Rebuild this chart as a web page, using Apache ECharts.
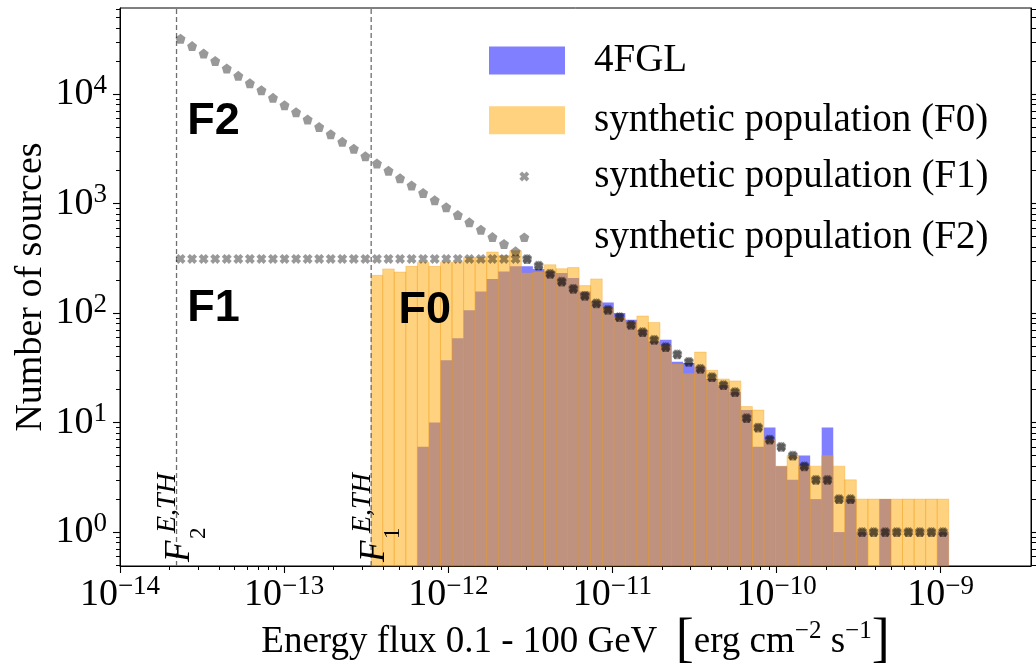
<!DOCTYPE html>
<html>
<head>
<meta charset="utf-8">
<title>Energy flux distribution of gamma-ray sources</title>
<script src="https://cdn.jsdelivr.net/npm/echarts@6/dist/echarts.min.js"></script>
<style>
  html, body { margin: 0; padding: 0; background: #ffffff; }
  #chart { width: 1036px; height: 666px; }
</style>
</head>
<body>
<div id="chart"></div>
<script>
// ---- Binning (log-spaced energy flux, erg cm^-2 s^-1) ----
const F1_THRESHOLD = 3.39e-13;   // F_1^{E,TH}: lower edge of the F0 / 4FGL histograms
const F2_THRESHOLD = 2.21e-14;   // F_2^{E,TH}
const FLUX_MAX = 1.12e-9;        // upper edge of the last histogram bin
const N_HIST_BINS = 50;          // bins between F1_THRESHOLD and FLUX_MAX
const N_EXTRA_BINS = 17;         // bins below F1_THRESHOLD used by the F1 / F2 samples

// ---- Axis ranges ----
const X_RANGE = [1e-14, 3.55e-9];
const Y_RANGE = [0.49, 6.1e4];
const X_DECADES = [-14, -13, -12, -11, -10, -9];
const Y_DECADES = [0, 1, 2, 3, 4];

// ---- Counts per histogram bin (starting at F1_THRESHOLD) ----
const COUNTS_4FGL = [
  0, 0, 0, 0, 6, 10, 37, 59, 106, 157,
  205, 240, 267, 267, 253, 240, 232, 209, 157, 128,
  125, 100, 87, 70, 55, 57, 36, 35, 32, 25,
  22, 19, 13, 6, 9, 4, 3, 5, 2, 9,
  1, 2, 1, 0, 2, 0, 0, 0, 0, 1
];
const COUNTS_F0 = [
  221, 253, 237, 267, 290, 267, 290, 290, 322, 322,
  361, 336, 371, 232, 237, 276, 254, 260, 178, 205,
  111, 90, 82, 94, 82, 51, 34, 28, 44, 30,
  25, 24, 14, 13, 7, 4, 5, 4, 4, 5,
  4, 3, 2, 2, 2, 2, 2, 2, 2, 2
];

// ---- Counts per bin for the extended samples (starting N_EXTRA_BINS below F1_THRESHOLD) ----
const COUNTS_F1 = [
  312, 312, 312, 312, 312, 312, 312, 312, 312, 312,
  312, 312, 312, 312, 312, 312, 312, 312, 312, 312,
  312, 312, 312, 312, 312, 312, 312, 312, 312, 312,
  312, 271, 229, 194, 167, 144, 123, 107, 92, 78,
  67, 57, 49, 42, 36, 31, 26, 22, 19, 11,
  9, 7, 6, 5, 4, 3, 3, 2, 2, 1,
  1, 1, 1, 1, 1, 1, 1
];
const COUNTS_F2 = [
  32000, 27400, 23400, 20000, 17100, 14650, 12560, 10840, 9230, 7910,
  6830, 5850, 5010, 4300, 3660, 3160, 2700, 2320, 1990, 1700,
  1460, 1250, 1070, 924, 787, 673, 577, 494, 427, 366,
  312, 271, 229, 194, 167, 144, 123, 107, 92, 78,
  67, 57, 49, 42, 36, 31, 26, 22, 19, 11,
  9, 7, 6, 5, 4, 3, 3, 2, 2, 1,
  1, 1, 1, 1, 1, 1, 1
];

// ---- Region labels ----
const REGION_LABELS = [
  { text: 'F2', flux: 2.57e-14, count: 5640 },
  { text: 'F1', flux: 2.57e-14, count: 109 },
  { text: 'F0', flux: 4.97e-13, count: 104.5 }
];
const THRESHOLDS = [
  { flux: F2_THRESHOLD, sub: '2' },
  { flux: F1_THRESHOLD, sub: '1' }
];

// ---- Styling ----
const BLUE = 'rgba(0,0,255,0.5)';
const ORANGE = 'rgba(255,165,0,0.5)';
const ORANGE_EDGE = 'rgba(240,150,0,0.3)';
const MARKER = 'rgba(0,0,0,0.5)';
const SERIF = '"Liberation Serif", "Times New Roman", serif';
const SANS = '"Liberation Sans", Arial, sans-serif';
const PENTAGON = 'path://M0,-1L0.951,-0.309L0.588,0.809L-0.588,0.809L-0.951,-0.309Z';
const FILLED_X = 'path://M2.8,0L5,2.2L7.2,0L10,2.8L7.8,5L10,7.2L7.2,10L5,7.8L2.8,10L0,7.2L2.2,5L0,2.8Z';

// Axes work in log10 space; every value is passed through log10.
const LOG = Math.log10;
const xMin = LOG(X_RANGE[0]), xMax = LOG(X_RANGE[1]);
const yMin = LOG(Y_RANGE[0]), yMax = LOG(Y_RANGE[1]);
const logLo = LOG(F1_THRESHOLD);
const binW = (LOG(FLUX_MAX) - logLo) / N_HIST_BINS;

function histBars(counts) {
  const out = [];
  counts.forEach(function (c, i) {
    if (c > 0) out.push([logLo + i * binW, logLo + (i + 1) * binW, LOG(c)]);
  });
  return out;
}
function binPoints(counts) {
  return counts.map(function (c, j) {
    return [logLo + (j - N_EXTRA_BINS + 0.5) * binW, LOG(c)];
  });
}

const X_MINOR = [];
for (let d = -14; d < -9; d++) for (let k = 2; k <= 9; k++) X_MINOR.push(d + LOG(k));
const Y_MINOR = [];
for (let d = -1; d <= 4; d++) for (let k = 2; k <= 9; k++) {
  const v = d + LOG(k);
  if (v > yMin && v < yMax) Y_MINOR.push(v);
}

const TICK_RICH = {
  b: { fontFamily: SERIF, fontSize: 38, color: '#000' },
  s: { fontFamily: SERIF, fontSize: 27, color: '#000', padding: [0, 0, 17, 0] }
};

function barRenderer(fill, stroke) {
  return function (params, api) {
    const p0 = api.coord([api.value(0), api.value(2)]);
    const p1 = api.coord([api.value(1), yMin]);
    const style = { fill: fill };
    if (stroke) { style.stroke = stroke; style.lineWidth = 1; }
    return {
      type: 'rect',
      shape: { x: p0[0], y: p0[1], width: p1[0] - p0[0], height: p1[1] - p0[1] },
      style: style
    };
  };
}

function thresholdRenderer(params, api) {
  const x = api.value(0);
  const top = api.coord([x, yMax]);
  const bot = api.coord([x, yMin]);
  const sub = THRESHOLDS[params.dataIndex].sub;
  const txt = function (text, x, y, font) {
    return {
      type: 'text', x: x, y: y,
      style: { text: text, font: font, fill: '#000', align: 'left', verticalAlign: 'middle',
               textAlign: 'left', textVerticalAlign: 'middle' }
    };
  };
  return {
    type: 'group',
    children: [
      { type: 'line', shape: { x1: bot[0], y1: bot[1], x2: top[0], y2: top[1] },
        style: { stroke: '#6e6e6e', lineWidth: 1.3, lineDash: [5, 3] } },
      { type: 'group', x: bot[0], y: bot[1], rotation: Math.PI / 2,
        children: [
          txt('F', 4, 3.5, 'italic 35px ' + SERIF),
          txt(sub, 27, 22, '23px ' + SERIF),
          txt('E,TH', 33, -9, 'italic 28px ' + SERIF)
        ] }
    ]
  };
}

function regionLabelRenderer(params, api) {
  const p = api.coord([api.value(0), api.value(1)]);
  return {
    type: 'text', x: p[0], y: p[1],
    style: { text: REGION_LABELS[params.dataIndex].text, font: 'bold 45px ' + SANS, fill: '#000',
             align: 'left', verticalAlign: 'middle', textAlign: 'left', textVerticalAlign: 'middle' }
  };
}

const baseAxis = { type: 'value', splitLine: { show: false } };
const AXIS_LINE = { show: true, onZero: false, lineStyle: { color: '#000', width: 1 } };
const NO_LINE = { show: false, onZero: false };

const option = {
  animation: false,
  backgroundColor: '#ffffff',
  grid: {
    left: 120, right: 5, top: 8, bottom: 100,
    show: true, borderColor: '#000', borderWidth: 1, backgroundColor: 'transparent',
    containLabel: false, outerBoundsMode: 'none'
  },
  xAxis: [
    Object.assign({}, baseAxis, {
      min: xMin, max: xMax, position: 'bottom',
      axisLine: AXIS_LINE,
      axisTick: { show: true, inside: false, length: 7, lineStyle: { color: '#000', width: 1.1 },
                  customValues: X_DECADES },
      axisLabel: { show: true, margin: 7, customValues: X_DECADES, rich: TICK_RICH,
                   formatter: function (v) { return '{b|10}{s|\u2212' + Math.round(-v) + '}'; } },
      name: '{t|Energy flux 0.1 - 100 GeV  }{br|[}{t|erg cm}{sp|\u22122}{t| s}{sp|\u22121}{br|]}',
      nameLocation: 'middle', nameGap: 49, nameMoveOverlap: false,
      nameTextStyle: {
        rich: {
          t: { fontFamily: SERIF, fontSize: 37, color: '#000' },
          br: { fontFamily: SERIF, fontSize: 54, color: '#000' },
          sp: { fontFamily: SERIF, fontSize: 25, color: '#000', padding: [0, 0, 22, 0] }
        }
      }
    }),
    Object.assign({}, baseAxis, {
      min: xMin, max: xMax, position: 'bottom',
      axisLine: NO_LINE,
      axisTick: { show: true, inside: false, length: 4, lineStyle: { color: '#000', width: 1 },
                  customValues: X_MINOR },
      axisLabel: { show: false }
    })
  ],
  yAxis: [
    Object.assign({}, baseAxis, {
      min: yMin, max: yMax, position: 'left',
      axisLine: AXIS_LINE,
      axisTick: { show: true, inside: false, length: 7, lineStyle: { color: '#000', width: 1.1 },
                  customValues: Y_DECADES },
      axisLabel: { show: true, margin: 13, customValues: Y_DECADES, rich: TICK_RICH,
                   formatter: function (v) { return '{b|10}{s|' + Math.round(v) + '}'; } },
      name: 'Number of sources', nameLocation: 'middle', nameRotate: 90, nameGap: 70,
      nameMoveOverlap: false,
      nameTextStyle: { fontFamily: SERIF, fontSize: 38, color: '#000' }
    }),
    Object.assign({}, baseAxis, {
      min: yMin, max: yMax, position: 'left',
      axisLine: NO_LINE,
      axisTick: { show: true, inside: false, length: 4, lineStyle: { color: '#000', width: 1 },
                  customValues: Y_MINOR },
      axisLabel: { show: false }
    }),
    Object.assign({}, baseAxis, {
      min: yMin, max: yMax, position: 'right',
      axisLine: AXIS_LINE,
      axisTick: { show: true, inside: false, length: 7, lineStyle: { color: '#000', width: 1.1 },
                  customValues: Y_DECADES },
      axisLabel: { show: false }
    }),
    Object.assign({}, baseAxis, {
      min: yMin, max: yMax, position: 'right',
      axisLine: NO_LINE,
      axisTick: { show: true, inside: false, length: 5, lineStyle: { color: '#000', width: 1 },
                  customValues: Y_MINOR },
      axisLabel: { show: false }
    })
  ],
  legend: [
    {
      orient: 'vertical', left: 489, top: 41, padding: 0,
      itemWidth: 76, itemHeight: 28, itemGap: 20.8, selectedMode: false,
      data: [{ name: '4FGL', icon: 'rect' }, { name: 'synthetic population (F0)', icon: 'rect' }],
      textStyle: { fontFamily: SERIF, fontSize: 39, color: '#000', padding: [0, 0, 0, 24] }
    },
    {
      orient: 'vertical', left: 519.3, top: 157, padding: 0,
      itemWidth: 10, itemHeight: 10, itemGap: 21.8, selectedMode: false,
      data: [{ name: 'synthetic population (F1)' }, { name: 'synthetic population (F2)' }],
      textStyle: { fontFamily: SERIF, fontSize: 39, color: '#000', padding: [0, 0, 0, 60] }
    }
  ],
  series: [
    {
      name: '4FGL', type: 'custom', xAxisIndex: 0, yAxisIndex: 0,
      renderItem: barRenderer(BLUE, null),
      encode: { x: [0, 1], y: 2 },
      itemStyle: { color: BLUE },
      data: histBars(COUNTS_4FGL)
    },
    {
      name: 'synthetic population (F0)', type: 'custom', xAxisIndex: 0, yAxisIndex: 0,
      renderItem: barRenderer(ORANGE, ORANGE_EDGE),
      encode: { x: [0, 1], y: 2 },
      itemStyle: { color: ORANGE },
      data: histBars(COUNTS_F0)
    },
    {
      name: 'synthetic population (F1)', type: 'scatter', xAxisIndex: 0, yAxisIndex: 0,
      symbol: FILLED_X, symbolSize: 10,
      itemStyle: { color: MARKER },
      data: binPoints(COUNTS_F1)
    },
    {
      name: 'synthetic population (F2)', type: 'scatter', xAxisIndex: 0, yAxisIndex: 0,
      symbol: PENTAGON, symbolSize: 10,
      itemStyle: { color: MARKER },
      data: binPoints(COUNTS_F2)
    },
    {
      name: 'thresholds', type: 'custom', xAxisIndex: 0, yAxisIndex: 0,
      renderItem: thresholdRenderer, silent: true,
      encode: { x: 0, y: 1 },
      data: THRESHOLDS.map(function (t) { return [LOG(t.flux), yMin]; })
    },
    {
      name: 'regions', type: 'custom', xAxisIndex: 0, yAxisIndex: 0,
      renderItem: regionLabelRenderer, silent: true,
      encode: { x: 0, y: 1 },
      data: REGION_LABELS.map(function (r) { return [LOG(r.flux), LOG(r.count)]; })
    }
  ]
};

const chart = echarts.init(document.getElementById('chart'), null, { renderer: 'canvas' });
chart.setOption(option);
</script>
</body>
</html>
